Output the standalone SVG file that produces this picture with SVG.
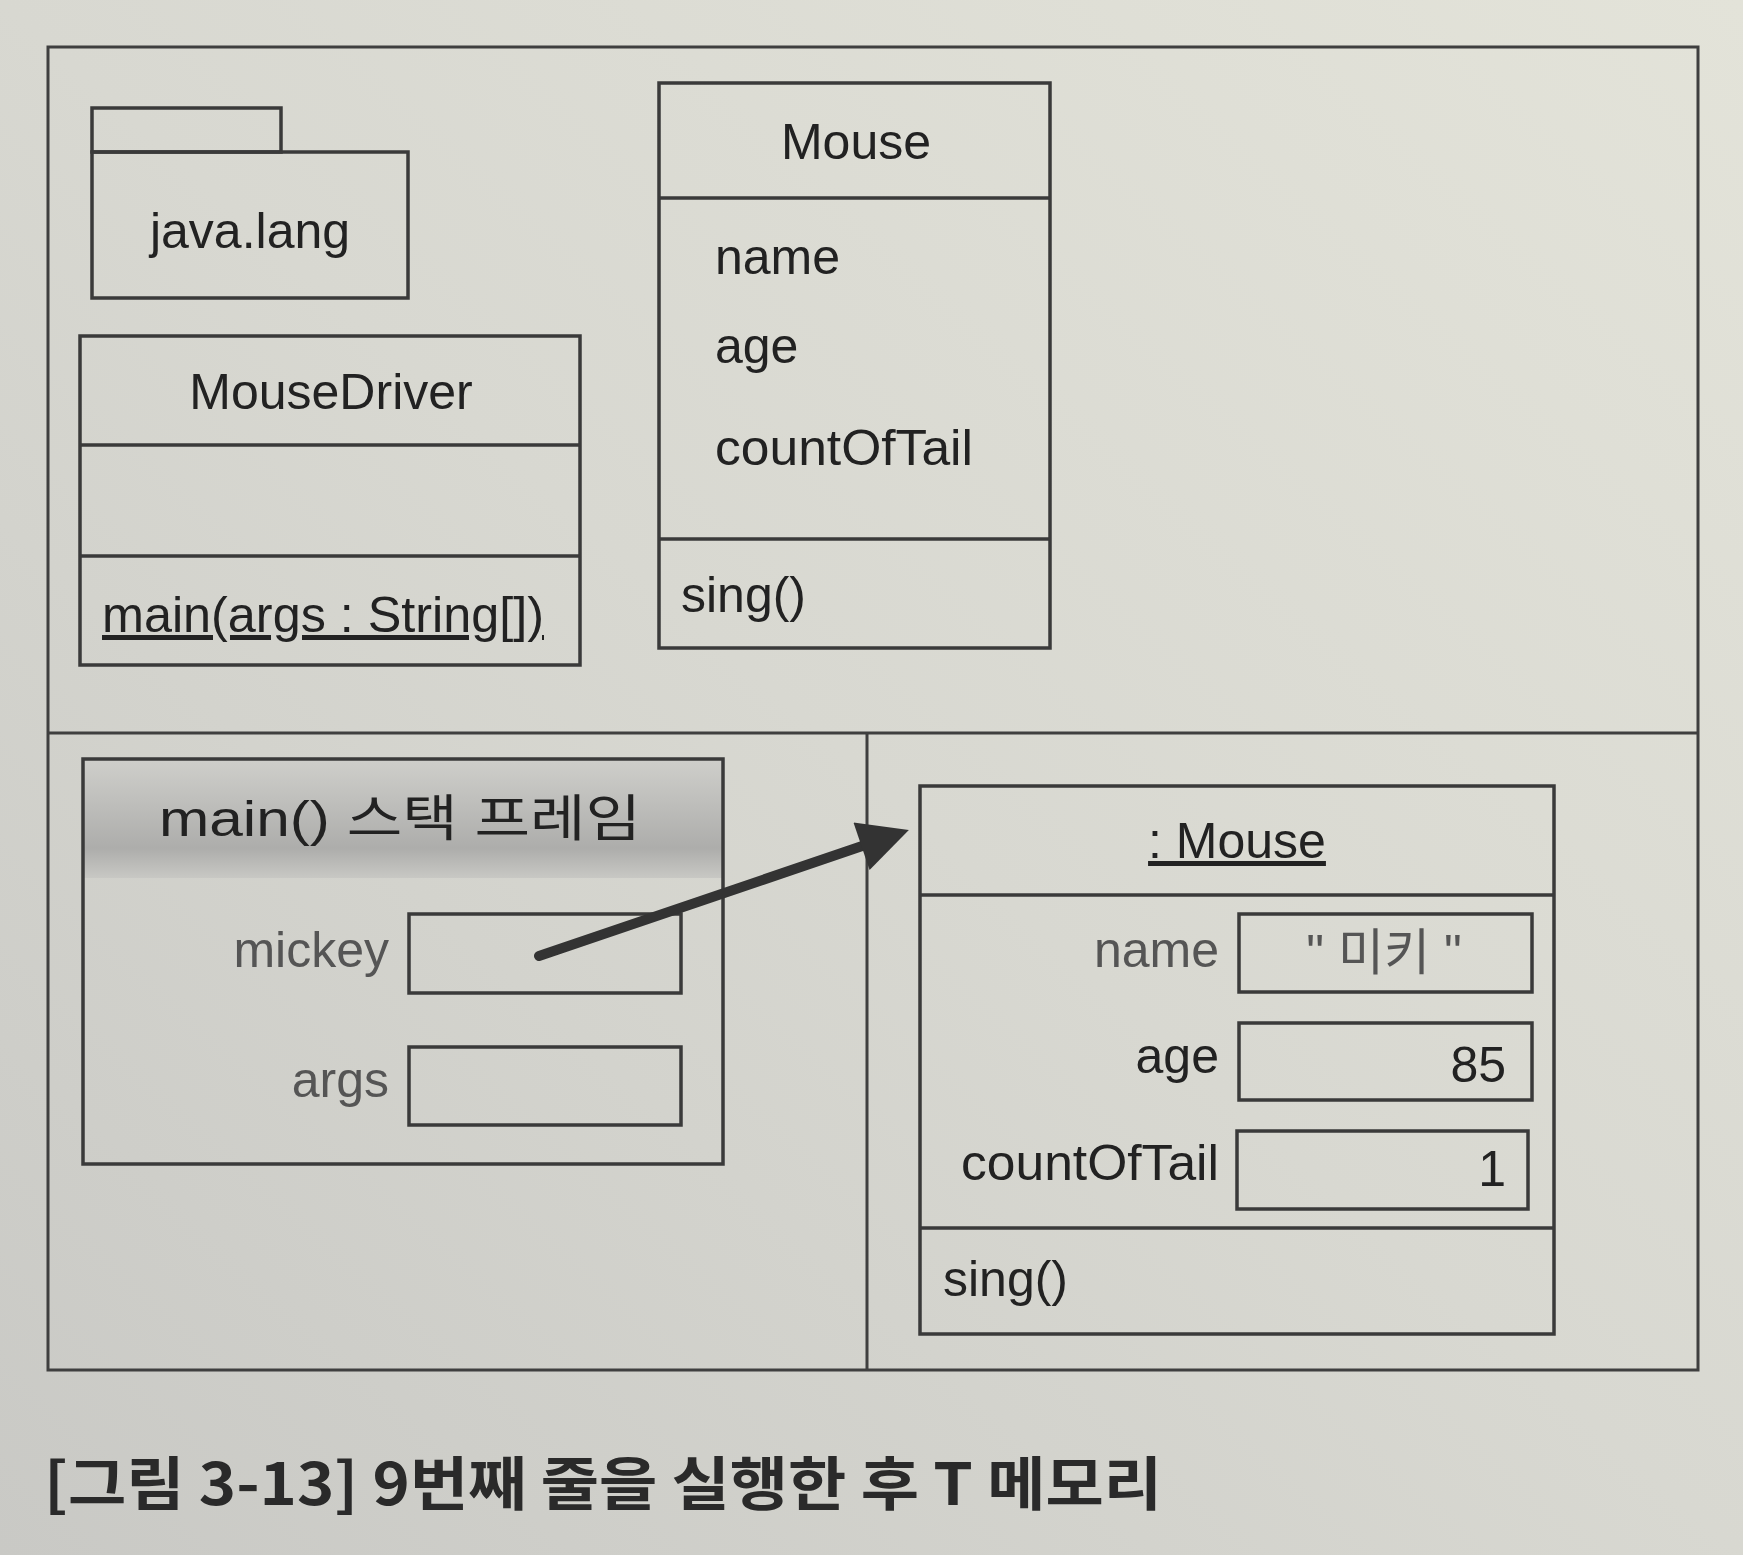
<svg xmlns="http://www.w3.org/2000/svg" width="1743" height="1555" viewBox="0 0 1743 1555">
<defs>
<linearGradient id="bg" x1="1" y1="0" x2="0" y2="1">
<stop offset="0" stop-color="#e3e3d9"/>
<stop offset="0.5" stop-color="#d8d8d1"/>
<stop offset="1" stop-color="#c9c9c5"/>
</linearGradient>
<linearGradient id="hdr" x1="0" y1="0" x2="0" y2="1">
<stop offset="0" stop-color="#cfcfcb"/>
<stop offset="0.75" stop-color="#adadab"/>
<stop offset="1" stop-color="#c8c8c4"/>
</linearGradient>
<marker id="ah" viewBox="0 0 10 10" refX="2" refY="5" markerWidth="6" markerHeight="5" orient="auto">
<path d="M0,0 L10,5 L0,10 z" fill="#333"/>
</marker>
</defs>
<style>
.box{fill:none;stroke:#3a3a3a;stroke-width:3.5}
.frame{fill:none;stroke:#3f3f3f;stroke-width:3}
.t{font-family:"Liberation Sans","Noto Sans CJK KR",sans-serif;font-size:50px;fill:#222}
.g{fill:#555}
.u{text-decoration:underline}
.cap{font-family:"Noto Sans CJK KR","Liberation Sans",sans-serif;font-size:58px;font-weight:bold;fill:#2a2a2a}
</style>
<rect x="0" y="0" width="1743" height="1555" fill="url(#bg)"/>

<g id="frame">
<rect class="frame" x="48" y="47" width="1650" height="1323"/>
<line class="frame" x1="48" y1="733" x2="1698" y2="733"/>
<line class="frame" x1="867" y1="733" x2="867" y2="1370"/>
</g>

<g id="java-lang">
<rect class="box" x="92" y="108" width="189" height="44"/>
<rect class="box" x="92" y="152" width="316" height="146"/>
<text class="t" x="250" y="248" text-anchor="middle">java.lang</text>
</g>

<g id="MouseDriver">
<rect class="box" x="80" y="336" width="500" height="329"/>
<line class="box" x1="80" y1="445" x2="580" y2="445"/>
<line class="box" x1="80" y1="556" x2="580" y2="556"/>
<text class="t" x="331" y="409" text-anchor="middle">MouseDriver</text>
<text class="t u" x="102" y="632" textLength="442" lengthAdjust="spacingAndGlyphs">main(args : String[])</text>
</g>

<g id="Mouse">
<rect class="box" x="659" y="83" width="391" height="565"/>
<line class="box" x1="659" y1="198" x2="1050" y2="198"/>
<line class="box" x1="659" y1="539" x2="1050" y2="539"/>
<text class="t" x="856" y="159" text-anchor="middle">Mouse</text>
<text class="t" x="715" y="274">name</text>
<text class="t" x="715" y="363">age</text>
<text class="t" x="715" y="465" textLength="258" lengthAdjust="spacingAndGlyphs">countOfTail</text>
<text class="t" x="681" y="612">sing()</text>
</g>

<g id="main-stack-frame">
<rect x="83" y="759" width="640" height="119" fill="url(#hdr)"/>
<rect class="box" x="83" y="759" width="640" height="405"/>
<text class="t" x="400" y="836" text-anchor="middle" textLength="482" lengthAdjust="spacingAndGlyphs">main() 스택 프레임</text>
<text class="t g" x="389" y="967" text-anchor="end">mickey</text>
<rect class="box" x="409" y="914" width="272" height="79"/>
<text class="t g" x="389" y="1097" text-anchor="end">args</text>
<rect class="box" x="409" y="1047" width="272" height="78"/>
</g>

<g id="mouse-object">
<rect class="box" x="920" y="786" width="634" height="548"/>
<line class="box" x1="920" y1="895" x2="1554" y2="895"/>
<line class="box" x1="920" y1="1228" x2="1554" y2="1228"/>
<text class="t u" x="1237" y="858" text-anchor="middle">: Mouse</text>
<text class="t g" x="1219" y="967" text-anchor="end">name</text>
<rect class="box" x="1239" y="914" width="293" height="78"/>
<text class="t g" x="1384" y="970" text-anchor="middle">" 미키 "</text>
<text class="t" x="1219" y="1073" text-anchor="end">age</text>
<rect class="box" x="1239" y="1023" width="293" height="77"/>
<text class="t" x="1506" y="1082" text-anchor="end">85</text>
<text class="t" x="1219" y="1180" text-anchor="end" textLength="258" lengthAdjust="spacingAndGlyphs">countOfTail</text>
<rect class="box" x="1237" y="1131" width="291" height="78"/>
<text class="t" x="1506" y="1186" text-anchor="end">1</text>
<text class="t" x="943" y="1296">sing()</text>
</g>

<g id="connectors">
<line x1="539" y1="956" x2="871" y2="843" stroke="#333" stroke-width="10" stroke-linecap="round" marker-end="url(#ah)"/>
</g>

<g id="caption">
<text class="cap" x="44" y="1505" textLength="1118" lengthAdjust="spacingAndGlyphs">[그림 3-13] 9번째 줄을 실행한 후 T 메모리</text>
</g>
</svg>
